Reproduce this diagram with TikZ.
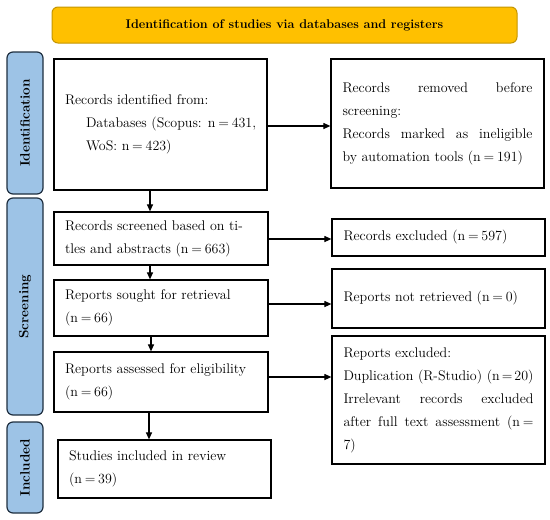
\documentclass[tikz,border=0pt]{standalone}
\usepackage{fontspec}
\usetikzlibrary{arrows.meta}
\definecolor{gold}{HTML}{FFC000}
\definecolor{goldline}{HTML}{C49500}
\definecolor{barfill}{HTML}{9DC3E6}
\definecolor{barline}{HTML}{1F2F40}
\newcommand{\jline}[1]{\makebox[\hsize][s]{#1}}
\newcommand{\boxtext}[2]{\parbox{#1}{\raggedright #2}}
\newcommand{\nq}{n\hspace{2.8pt}=\hspace{2.8pt}}
\tikzset{
  box/.style={draw=black, line width=1.2pt, fill=white, inner sep=0pt,
    font={\fontsize{14}{23}\selectfont}},
  bar/.style={draw=barline, fill=barfill, line width=1.2pt, rounded corners=6pt,
    minimum width=36pt, inner sep=0pt},
  barlab/.style={rotate=90, font={\bfseries\fontsize{13.5}{15}\selectfont}},
  arr/.style={-{Triangle[length=7pt,width=6pt]}, line width=1.1pt, black},
}
\begin{document}
\begin{tikzpicture}[x=1pt,y=-1pt]
\useasboundingbox (0,0) rectangle (550,520);
% title
\node[draw=goldline, fill=gold, line width=1pt, rounded corners=6pt, minimum width=465pt,
  minimum height=36pt, font={\bfseries\fontsize{12.6}{14}\selectfont}] (title) at (284.5,25)
  {Identification of studies via databases and registers};
% side bars
\node[bar, minimum height=142pt] (idbar) at (25,123) {};
\node[barlab] (idlab) at (idbar.center) {Identification};
\node[bar, minimum height=217pt] (scbar) at (25,306.5) {};
\node[barlab] (sclab) at (scbar.center) {Screening};
\node[bar, minimum height=91pt] (inbar) at (25,467.5) {};
\node[barlab] (inlab) at (inbar.center) {Included};
% left column
\node[box, minimum width=213pt, minimum height=131pt] (b1) at (160.5,124.5)
  {\boxtext{191pt}{Records identified from:\\
   \mbox{\hspace*{21pt}Databases (Scopus: \nq431,}\\
   \mbox{\hspace*{21pt}WoS: \nq423)}}};
\node[box, minimum width=214pt, minimum height=53pt] (b2) at (161,238.5)
  {\boxtext{192pt}{Records screened based on ti-\\tles and abstracts (\nq663)}};
\node[box, minimum width=214pt, minimum height=56pt] (b3) at (161,308)
  {\boxtext{192pt}{Reports sought for retrieval\\(\nq66)}};
\node[box, minimum width=214pt, minimum height=60pt] (b4) at (161,382)
  {\boxtext{192pt}{Reports assessed for eligibility\\(\nq66)}};
\node[box, minimum width=213pt, minimum height=58pt] (b5) at (164.5,469)
  {\boxtext{191pt}{Studies included in review\\(\nq39)}};
% right column
\node[box, minimum width=213pt, minimum height=129pt] (r1) at (437.5,123.5)
  {\boxtext{190pt}{\jline{Records removed before}\\
   screening:\\
   \jline{Records marked as ineligible}\\
   \mbox{by automation tools (\nq191)}}};
\node[box, minimum width=213pt, minimum height=37pt] (r2) at (438.5,237.5)
  {\boxtext{190pt}{Records excluded (\nq597)}};
\node[box, minimum width=213pt, minimum height=59pt] (r3) at (438.5,298.5)
  {\boxtext{190pt}{Reports not retrieved (\nq0)}};
\node[box, minimum width=213pt, minimum height=128pt] (r4) at (438.5,400)
  {\boxtext{190pt}{Reports excluded:\\
   \makebox[\hsize][s]{Duplication\hfill(R-Studio)\hfill(n\hspace{2pt}=\hspace{2pt}20)}\\
   \jline{Irrelevant records excluded}\\
   \jline{after full text assessment (n\hspace{2.8pt}=}\\
   7)}};
% arrows
\draw[arr] (b1.east |- 0,126) -- (r1.west |- 0,126);
\draw[arr] (b2.east |- 0,239) -- (r2.west |- 0,239);
\draw[arr] (b3.east |- 0,304) -- (r3.west |- 0,304);
\draw[arr] (b4.east |- 0,377) -- (r4.west |- 0,377);
\draw[arr] (b1.south -| 150,0) -- (b2.north -| 150,0);
\draw[arr] (b2.south -| 150,0) -- (b3.north -| 150,0);
\draw[arr] (b3.south -| 151,0) -- (b4.north -| 151,0);
\draw[arr] (b4.south -| 149,0) -- (b5.north -| 149,0);
\end{tikzpicture}
\end{document}
